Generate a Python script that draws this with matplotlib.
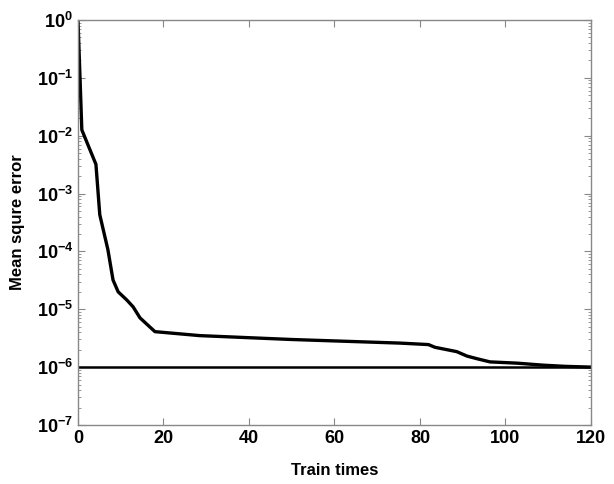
import numpy as np
import matplotlib.pyplot as plt
from matplotlib.ticker import FixedLocator, NullFormatter

# training error curve
train_x = [0, 0.9, 4.2, 5.1, 7.0, 8.2, 9.4, 11.4, 12.9, 14.5, 18.0, 28.5, 50.0,
           75.3, 82.0, 83.5, 88.6, 91.0, 93.6, 96.4, 102.7, 108.8, 114.0, 120.0]
train_err = [1.0, 1.26e-2, 3.2e-3, 4.3e-4, 1.07e-4, 3.2e-5, 2.0e-5, 1.45e-5, 1.1e-5,
             7.1e-6, 4.1e-6, 3.5e-6, 3.0e-6, 2.6e-6, 2.45e-6, 2.2e-6, 1.85e-6, 1.55e-6,
             1.38e-6, 1.23e-6, 1.17e-6, 1.08e-6, 1.03e-6, 1.0e-6]
goal = 1e-6
x_ticks = [0, 20, 40, 60, 80, 100, 120]
y_ticks = [1e-7, 1e-6, 1e-5, 1e-4, 1e-3, 1e-2, 1e-1, 1e0]

plt.rcParams['font.family'] = ['Liberation Sans', 'DejaVu Sans']
fig = plt.figure(figsize=(6.14, 4.84), dpi=100)
ax = fig.add_axes([0.127, 0.122, 0.8355, 0.8367])

ax.semilogy(train_x, train_err, color='black', linewidth=2.4)
ax.axhline(goal, color='black', linewidth=1.8)

ax.set_xlim(0, 120)
ax.set_ylim(1e-7, 1e0)
ax.set_xticks(x_ticks)
ax.set_yticks(y_ticks)
minor = [m * d for d in y_ticks[:-1] for m in range(2, 10)]
ax.yaxis.set_minor_locator(FixedLocator(minor))
ax.yaxis.set_minor_formatter(NullFormatter())

for s in ax.spines.values():
    s.set_color('#888888')
    s.set_linewidth(1.0)
ax.tick_params(which='both', direction='in', top=True, right=True, color='#888888')
ax.tick_params(which='major', length=5, labelsize=13)
ax.tick_params(which='minor', length=2.5)
for lab in ax.get_xticklabels() + ax.get_yticklabels():
    lab.set_fontweight('bold')

ax.set_xlabel('Train times', fontsize=12, fontweight='bold', labelpad=12)
ax.set_ylabel('Mean squre error', fontsize=12, fontweight='bold', labelpad=8)

fig.savefig('out.png', dpi=100)
